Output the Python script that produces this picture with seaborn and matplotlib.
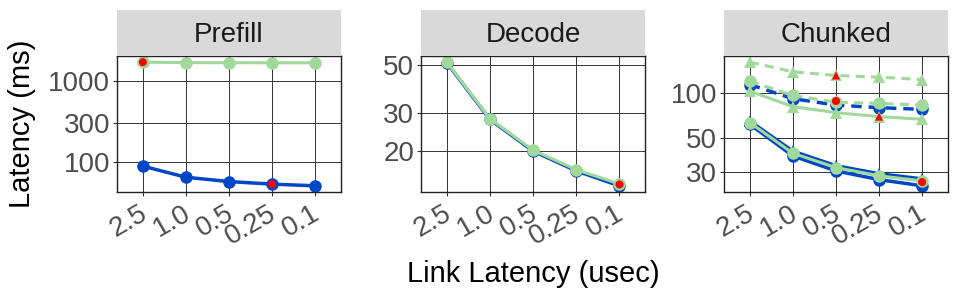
import numpy as np
import pandas as pd
import matplotlib
matplotlib.use("Agg")
import matplotlib.pyplot as plt
import matplotlib.transforms as mtransforms
from matplotlib.ticker import NullLocator, FixedLocator, FixedFormatter
import seaborn as sns

# ---------------- data ----------------
x_labels = ["2.5", "1.0", "0.5", "0.25", "0.1"]
panels = ["Prefill", "Decode", "Chunked"]

# Prefill
prefill_green_solid_circle = [1680, 1660, 1655, 1650, 1650]
prefill_blue_solid_circle = [89, 65, 57.5, 53.5, 51]
# Decode
decode_green_solid_circle = [51.6, 28.2, 20.2, 16.4, 14.1]
decode_blue_solid_circle = [51.3, 28.0, 20.0, 16.2, 13.8]
# Chunked
chunked_green_dashed_tri = [160.7, 138.7, 131, 127.7, 123]
chunked_green_dashed_circle = [120, 96.5, 87, 85.4, 83.2]
chunked_blue_dashed_circle = [114, 91.8, 83.2, 80, 77.9]
chunked_green_solid_tri = [103, 81.2, 74.1, 69.7, 66.9]
chunked_blue_solid_tri = [65, 41, 32.8, 29, 26.8]
chunked_blue_solid_circle = [61.9, 38.1, 30.3, 26.5, 24.1]
chunked_green_solid_circle = [63.6, 39.7, 31.9, 28.1, 26.0]

# highlighted (red) points
red_panel = ["Prefill", "Prefill", "Decode", "Chunked", "Chunked", "Chunked", "Chunked"]
red_x = ["2.5", "0.25", "0.1", "0.5", "0.5", "0.25", "0.1"]
red_y = [1680, 53.5, 14.1, 131, 88.5, 69.7, 25.5]
red_shape = ["circle", "circle", "circle", "tri", "circle", "tri", "circle"]

y_ticks = {"Prefill": [100, 300, 1000], "Decode": [20, 30, 50], "Chunked": [30, 50, 100]}

# ---------------- build long table ----------------
series = [
    ("Prefill", "Blue", "solid-circle", prefill_blue_solid_circle),
    ("Prefill", "Green", "solid-circle", prefill_green_solid_circle),
    ("Decode", "Blue", "solid-circle", decode_blue_solid_circle),
    ("Decode", "Green", "solid-circle", decode_green_solid_circle),
    ("Chunked", "Blue", "dashed-circle", chunked_blue_dashed_circle),
    ("Chunked", "Blue", "solid-tri", chunked_blue_solid_tri),
    ("Chunked", "Blue", "solid-circle", chunked_blue_solid_circle),
    ("Chunked", "Green", "dashed-tri", chunked_green_dashed_tri),
    ("Chunked", "Green", "dashed-circle", chunked_green_dashed_circle),
    ("Chunked", "Green", "solid-tri", chunked_green_solid_tri),
    ("Chunked", "Green", "solid-circle", chunked_green_solid_circle),
]
rows = []
for phase, system, cfg, vals in series:
    for lab, v in zip(x_labels, vals):
        rows.append(dict(phase=phase, system=system, config=cfg,
                         x=x_labels.index(lab), latency=v))
df = pd.DataFrame(rows)

red_df = pd.DataFrame(dict(phase=red_panel,
                           x=[x_labels.index(l) for l in red_x],
                           latency=red_y, shape=red_shape))

# ---------------- style ----------------
sns.set_theme(style="white")
plt.rcParams["font.family"] = ["Liberation Sans", "DejaVu Sans"]

BLUE = "#0047C8"
GREEN = "#A1D99B"
RED = "#FF0000"
palette = {"Blue": BLUE, "Green": GREEN}
dashes = {"solid-circle": "", "solid-tri": "", "dashed-circle": (3, 2), "dashed-tri": (3, 2)}
markers = {"solid-circle": "o", "solid-tri": "^", "dashed-circle": "o", "dashed-tri": "^"}

W, H = 958, 296
fig = plt.figure(figsize=(W / 100, H / 100), dpi=100)

ax_left = [117, 421, 724]
ax_w = 224
ax_top, ax_bot = 56, 192
strip_top = 10

TICK_FS = 20
for i, phase in enumerate(panels):
    rect = [ax_left[i] / W, 1 - ax_bot / H, ax_w / W, (ax_bot - ax_top) / H]
    ax = fig.add_axes(rect)
    sub = df[df.phase == phase]
    for system in ["Blue", "Green"]:
        s2 = sub[sub.system == system]
        sns.lineplot(data=s2, x="x", y="latency", hue="system", style="config",
                     palette=palette, dashes=dashes, markers=markers,
                     linewidth=2.5 if system == "Blue" else 2.2,
                     markersize=9, markeredgewidth=0, legend=False, ax=ax,
                     sort=True)
    r = red_df[red_df.phase == phase]
    sns.scatterplot(data=r, x="x", y="latency", style="shape",
                    markers={"circle": "o", "tri": "^"}, color=RED, s=34,
                    linewidth=0, legend=False, ax=ax, zorder=5)

    ax.set_yscale("log")
    lo, hi = np.log10(sub.latency.min()), np.log10(sub.latency.max())
    pad = 0.05 * (hi - lo)
    ax.set_ylim(10 ** (lo - pad), 10 ** (hi + pad))
    ax.set_xlim(-0.6, len(x_labels) - 0.4)
    ax.yaxis.set_major_locator(FixedLocator(y_ticks[phase]))
    ax.yaxis.set_major_formatter(FixedFormatter([str(t) for t in y_ticks[phase]]))
    ax.yaxis.set_minor_locator(NullLocator())
    ax.set_xticks(range(len(x_labels)))
    ax.set_xticklabels(x_labels, rotation=30, ha="right", va="top",
                       rotation_mode="anchor")
    ax.tick_params(axis="both", which="major", labelsize=TICK_FS,
                   labelcolor="#4D4D4D", length=3, width=0.8, color="#333333",
                   direction="out", pad=2, bottom=True, left=True)
    ax.tick_params(axis="x", pad=3)
    off = mtransforms.ScaledTranslation(-4 / 100, 0, fig.dpi_scale_trans)
    for lab in ax.get_xticklabels():
        lab.set_transform(lab.get_transform() + off)
    ax.grid(True, which="major", color="#333333", linewidth=0.7)
    ax.set_axisbelow(True)
    for sp in ax.spines.values():
        sp.set_color("#222222")
        sp.set_linewidth(1.0)
    ax.set_xlabel("")
    ax.set_ylabel("")

    # strip
    sax = fig.add_axes([ax_left[i] / W, 1 - ax_top / H, ax_w / W, (ax_top - strip_top) / H])
    sax.set_facecolor("#D9D9D9")
    sax.set_xticks([]); sax.set_yticks([])
    for sp in sax.spines.values():
        sp.set_visible(False)
    sax.text(0.5, 0.45, phase, ha="center", va="center", fontsize=20, color="#1A1A1A",
             transform=sax.transAxes)

fig.text(22 / W, 1 - 124 / H, "Latency (ms)", rotation=90, ha="center", va="center",
         fontsize=21, color="black")
fig.text(533 / W, 1 - 282 / H, "Link Latency (usec)", ha="center", va="baseline",
         fontsize=21, color="black")

fig.savefig("out.png", dpi=100)
